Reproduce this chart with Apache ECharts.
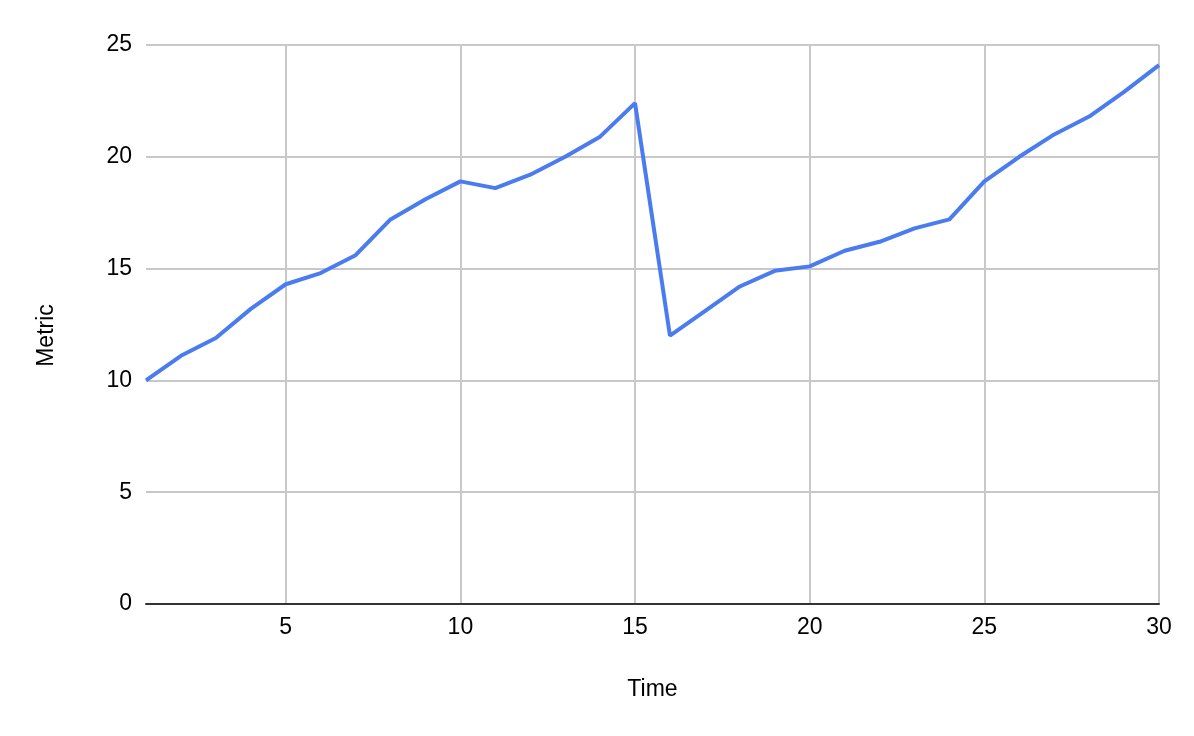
<!DOCTYPE html>
<html>
<head>
<meta charset="utf-8">
<script src="https://cdn.jsdelivr.net/npm/echarts@6/dist/echarts.min.js"></script>
<style>
html,body{margin:0;padding:0;background:#fff;}
#chart{width:1194px;height:736px;}
</style>
</head>
<body>
<div id="chart"></div>
<script>
const timeValues = [1,2,3,4,5,6,7,8,9,10,11,12,13,14,15,16,17,18,19,20,21,22,23,24,25,26,27,28,29,30];
const metricValues = [10.0,11.1,11.9,13.2,14.3,14.8,15.6,17.2,18.1,18.9,18.6,19.2,20.0,20.9,22.4,12.0,13.1,14.2,14.9,15.1,15.8,16.2,16.8,17.2,18.9,20.0,21.0,21.8,22.9,24.1];
const yTicks = { min: 0, max: 25, interval: 5 };
const xLabelStep = 5;

const chart = echarts.init(document.getElementById('chart'), null, { renderer: 'canvas' });
const font = 'Liberation Sans, Arial, sans-serif';
const fs = 23;
const showEvery = (idx, val) => Number(val) % xLabelStep === 0;

chart.setOption({
  animation: false,
  backgroundColor: '#ffffff',
  grid: { left: 146, right: 35, top: 45, bottom: 132, containLabel: false },
  xAxis: {
    type: 'category',
    data: timeValues.map(String),
    boundaryGap: false,
    name: 'Time',
    nameLocation: 'middle',
    nameGap: 74,
    nameTextStyle: { fontFamily: font, fontSize: fs, color: '#000' },
    axisLine: { show: true, lineStyle: { color: '#333333', width: 2 } },
    axisTick: { show: false },
    axisLabel: { interval: showEvery, fontFamily: font, fontSize: fs, color: '#000', margin: 12 },
    splitLine: { show: true, interval: showEvery, lineStyle: { color: '#c8c8c8', width: 2 } }
  },
  yAxis: {
    type: 'value',
    min: yTicks.min,
    max: yTicks.max,
    interval: yTicks.interval,
    name: 'Metric',
    nameLocation: 'middle',
    nameGap: 88,
    nameTextStyle: { fontFamily: font, fontSize: fs, color: '#000', padding: [0, 22, 0, 0] },
    axisLine: { show: false },
    axisTick: { show: false },
    axisLabel: { fontFamily: font, fontSize: fs, color: '#000', margin: 14 },
    splitLine: { show: true, lineStyle: { color: '#c8c8c8', width: 2 } }
  },
  series: [{
    type: 'line',
    data: metricValues,
    showSymbol: false,
    symbol: 'none',
    lineStyle: { color: '#4a7cef', width: 4 },
    itemStyle: { color: '#4a7cef' }
  }]
});
</script>
</body>
</html>
